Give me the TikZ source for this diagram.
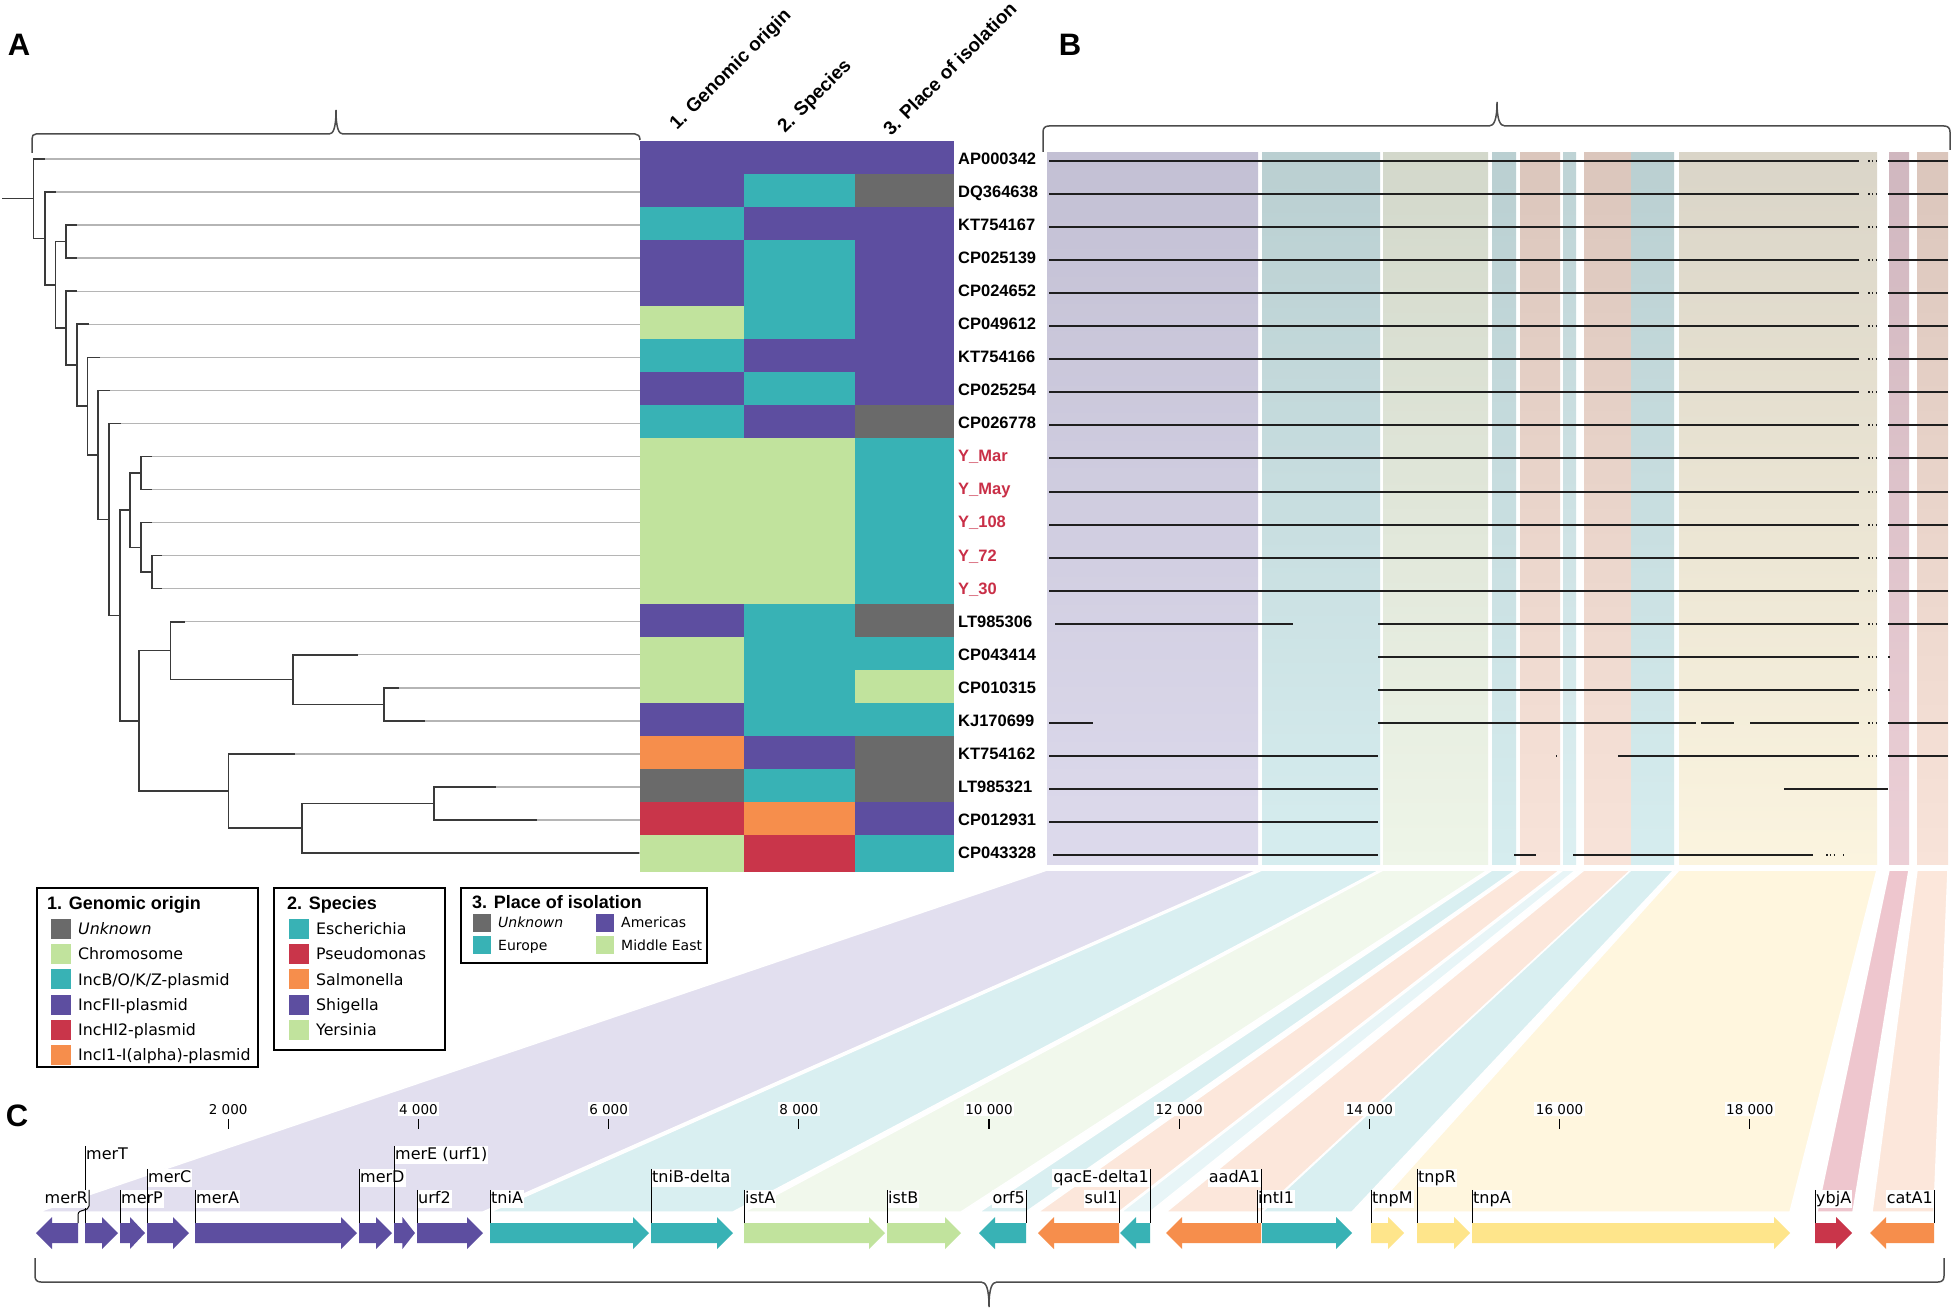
\documentclass[tikz,border=0pt]{standalone}
\usepackage{fontspec}
\setmainfont{Liberation Sans}
\newfontfamily\dvfont{DejaVu Sans}
\usetikzlibrary{calc}
\definecolor{hP}{HTML}{5D4EA0}
\definecolor{hT}{HTML}{38B2B5}
\definecolor{hG}{HTML}{C1E39D}
\definecolor{hK}{HTML}{6A6A6A}
\definecolor{hR}{HTML}{C9354A}
\definecolor{hO}{HTML}{F68E4C}
\definecolor{hY}{HTML}{FEE58B}
\definecolor{labred}{HTML}{C92F47}
\definecolor{brc}{HTML}{3A3A3A}
\definecolor{grc}{HTML}{B5B5B5}
% B columns: t = top, u = bottom, f = band
\definecolor{tP}{HTML}{C3C0D4}\definecolor{uP}{HTML}{DDDAEC}\definecolor{fP}{HTML}{E2DFEF}
\definecolor{tT}{HTML}{BACFD1}\definecolor{uT}{HTML}{D6EDEF}\definecolor{fT}{HTML}{D9EFF1}
\definecolor{tG}{HTML}{D3D8CB}\definecolor{uG}{HTML}{EEF5E8}\definecolor{fG}{HTML}{F1F8EC}
\definecolor{tO}{HTML}{DBC6BC}\definecolor{uO}{HTML}{F8E3D9}\definecolor{fO}{HTML}{FCE7DB}
\definecolor{tL}{HTML}{BED3D5}\definecolor{uL}{HTML}{DDF0F2}\definecolor{fL}{HTML}{E8F5F7}
\definecolor{tY}{HTML}{DAD5C8}\definecolor{uY}{HTML}{FBF4DF}\definecolor{fY}{HTML}{FFF6DE}
\definecolor{tK}{HTML}{D0B7BF}\definecolor{uK}{HTML}{ECCFD6}\definecolor{fK}{HTML}{EEC6CE}
\newcommand{\RY}[1]{159+33.05*#1}
\newcommand{\BL}[3]{\draw[bl] (#2,{161+33.05*#1}) -- (#3,{161+33.05*#1});}
\newcommand{\BD}[1]{\draw[bl,dash pattern=on 1.6pt off 2.2pt] (1868,{161+33.05*#1}) -- (1879,{161+33.05*#1});}
\newcommand{\geneR}[3]{\pgfmathsetmacro\hl{min(16,0.6*(#2-#1))}%
  \fill[#3] (#1,1223) -- ({#2-\hl},1223) -- ({#2-\hl},1217) -- (#2,1233) -- ({#2-\hl},1249) -- ({#2-\hl},1243) -- (#1,1243) -- cycle;}
\newcommand{\geneL}[3]{\pgfmathsetmacro\hl{min(16,0.6*(#2-#1))}%
  \fill[#3] (#2,1223) -- ({#1+\hl},1223) -- ({#1+\hl},1217) -- (#1,1233) -- ({#1+\hl},1249) -- ({#1+\hl},1243) -- (#2,1243) -- cycle;}
\newcommand{\LegI}[4]{\fill[#3] (#1,{#2-10}) rectangle ({#1+20},{#2+10});
  \node[legitem,anchor=base west] at ({#1+27},{#2+5.7}) {#4};}
\newcommand{\LegS}[4]{\fill[#3] (#1,{#2-9}) rectangle ({#1+18},{#2+9});
  \node[legitemS,anchor=base west] at ({#1+25},{#2+5.1}) {#4};}
\begin{document}
\begin{tikzpicture}[x=1pt,y=-1pt,
  br/.style={draw=brc, line width=1.6pt},
  gr/.style={draw=grc, line width=1.4pt},
  hlab/.style={font=\bfseries\fontsize{16.5}{18}\selectfont, inner sep=0pt},
  colhead/.style={font=\bfseries\fontsize{19}{21}\selectfont, inner sep=0pt},
  panel/.style={font=\bfseries\fontsize{31}{33}\selectfont, inner sep=0pt},
  bl/.style={draw=black!88, line width=2pt},
  bracepath/.style={draw=black!70, line width=1.5pt},
  legbox/.style={draw=black, line width=1.3pt, fill=white},
  legtitle/.style={font=\bfseries\fontsize{18}{20}\selectfont, inner sep=0pt},
  legitem/.style={font=\dvfont\fontsize{15.8}{17}\selectfont, inner sep=0pt},
  legitemS/.style={font=\dvfont\fontsize{14}{16}\selectfont, inner sep=0pt},
  glab/.style={font=\dvfont\fontsize{16}{18}\selectfont, fill=white, inner sep=1pt, text height=12pt, text depth=3.5pt},
  lead/.style={draw=black, line width=1pt},
  snum/.style={font=\dvfont\fontsize{13.5}{15}\selectfont, fill=white, inner sep=1.5pt},
  scaletick/.style={draw=black, line width=1.2pt},
]
\useasboundingbox (0,0) rectangle (1955,1311);
\fill[white] (0,0) rectangle (1955,1311);

% ---- B columns and bands
\foreach \xa/\xb/\ga/\gb/\cc in {1047/1258/38/483/P, 1262/1380/490/733/T, 1383/1488/744/961/G, 1492/1516/979/1026/T, 1520/1560/1038/1119/O, 1563/1576/1121/1150/L, 1584/1631/1166/1261/O, 1631/1674/1262/1352/T, 1679/1877/1371/1790/Y, 1889/1909/1817/1853/K, 1917/1948/1872/1934/O}{
  \shade[top color=t\cc, bottom color=u\cc] (\xa,153) rectangle (\xb,864);
  \filldraw[fill=f\cc, draw=white, line width=1.5pt] (\xa,870) -- (\xb,870) -- (\gb,1212) -- (\ga,1212) -- cycle;
}

% ---- panel letters
\node[panel] (pA) at (19,45) {A};
\node[panel] (pB) at (1070,45) {B};
\node[panel] (pC) at (17,1116) {C};

% ---- brackets
\draw[bracepath] (32,153) -- (32,139) .. controls (32,136) and (33,134) .. (36,134) -- (329,134) .. controls (333,134) and (336,129) .. (336,110) .. controls (336,129) and (339,134) .. (343,134) -- (635,134) .. controls (638,134) and (640,136) .. (640,140);
\draw[bracepath] (1043,152) -- (1043,132) .. controls (1043,128) and (1045,126) .. (1049,126) -- (1489,126) .. controls (1494,126) and (1497,120) .. (1497,102) .. controls (1497,120) and (1500,126) .. (1505,126) -- (1944,126) .. controls (1948,126) and (1950,128) .. (1950,132) -- (1950,150);
\draw[bracepath] (35,1258) -- (35,1276) .. controls (35,1280) and (37,1282) .. (41,1282) -- (981,1282) .. controls (986,1282) and (989,1288) .. (989,1307) .. controls (989,1288) and (992,1282) .. (997,1282) -- (1938,1282) .. controls (1942,1282) and (1944,1280) .. (1944,1276) -- (1944,1258);

% ---- tree
\foreach \i/\tx in {0/44.6,1/56,2/77,3/77,4/77,5/89,6/100,7/110,8/121,9/152,10/152,11/152,12/162,13/162,14/185,15/358,16/399,17/425,18/295,19/495.5,20/537,21/639}{
  \coordinate (t\i) at (\tx,{\RY{\i}});
  \draw[gr] (t\i) -- (640,{\RY{\i}});
}
\coordinate (root) at (33.5,{\RY{1.2}});
\coordinate (nA) at (45,{\RY{2.405}});
\coordinate (nB) at (55.4,{\RY{3.81}});
\coordinate (nC) at (66,{\RY{2.5}});
\coordinate (nD) at (66,{\RY{5.119}});
\coordinate (nE) at (77,{\RY{6.238}});
\coordinate (nF) at (87.5,{\RY{7.477}});
\coordinate (nG) at (98,{\RY{8.953}});
\coordinate (nH) at (109,{\RY{10.906}});
\coordinate (nI) at (120,{\RY{13.8125}});
\coordinate (nJ) at (130,{\RY{10.625}});
\coordinate (nK) at (141,{\RY{9.5}});
\coordinate (nL) at (141,{\RY{11.75}});
\coordinate (nM) at (152,{\RY{12.5}});
\coordinate (nP) at (139,{\RY{17}});
\coordinate (nQ) at (170.5,{\RY{14.875}});
\coordinate (nR) at (293,{\RY{15.75}});
\coordinate (nS) at (384,{\RY{16.5}});
\coordinate (nT) at (228.5,{\RY{19.125}});
\coordinate (nU) at (302,{\RY{20.25}});
\coordinate (nV) at (434,{\RY{19.5}});
\coordinate (rootstub) at (2,{\RY{1.2}});
\draw[br] (rootstub) -- (root);
\draw[br] (t0) -| (root) |- (nA);
\draw[br] (t1) -| (nA) |- (nB);
\draw[br] (nC) -| (nB) |- (nD);
\draw[br] (t2) -| (nC) |- (t3);
\draw[br] (t4) -| (nD) |- (nE);
\draw[br] (t5) -| (nE) |- (nF);
\draw[br] (t6) -| (nF) |- (nG);
\draw[br] (t7) -| (nG) |- (nH);
\draw[br] (t8) -| (nH) |- (nI);
\draw[br] (nJ) -| (nI) |- (nP);
\draw[br] (nK) -| (nJ) |- (nL);
\draw[br] (t9) -| (nK) |- (t10);
\draw[br] (t11) -| (nL) |- (nM);
\draw[br] (t12) -| (nM) |- (t13);
\draw[br] (nQ) -| (nP) |- (nT);
\draw[br] (t14) -| (nQ) |- (nR);
\draw[br] (t15) -| (nR) |- (nS);
\draw[br] (t16) -| (nS) |- (t17);
\draw[br] (t18) -| (nT) |- (nU);
\draw[br] (nV) -| (nU) |- (t21);
\draw[br] (t19) -| (nV) |- (t20);

% ---- heatmap
\foreach \i/\a/\b/\cc in {0/hP/hP/hP,1/hP/hT/hK,2/hT/hP/hP,3/hP/hT/hP,4/hP/hT/hP,5/hG/hT/hP,6/hT/hP/hP,7/hP/hT/hP,8/hT/hP/hK,9/hG/hG/hT,10/hG/hG/hT,11/hG/hG/hT,12/hG/hG/hT,13/hG/hG/hT,14/hP/hT/hK,15/hG/hT/hT,16/hG/hT/hG,17/hP/hT/hT,18/hO/hP/hK,19/hK/hT/hK,20/hR/hO/hP,21/hG/hR/hT}{
  \fill[\a] (640,{141+33.05*\i}) rectangle (744.5,{141.5+33.05*(\i+1)});
  \fill[\b] (744,{141+33.05*\i}) rectangle (855.5,{141.5+33.05*(\i+1)});
  \fill[\cc] (855,{141+33.05*\i}) rectangle (954,{141.5+33.05*(\i+1)});
}
\fill[hG] (640,860) rectangle (744.5,872);
\fill[hR] (744,860) rectangle (855.5,872);
\fill[hT] (855,860) rectangle (954,872);

\node[colhead, rotate=45, anchor=base west] (h1) at (677,131) {1. Genomic origin};
\node[colhead, rotate=45, anchor=base west] (h2) at (785,134) {2. Species};
\node[colhead, rotate=45, anchor=base west] (h3) at (891,137) {3. Place of isolation};

\foreach \i/\nm/\col in {0/AP000342/black,1/DQ364638/black,2/KT754167/black,3/CP025139/black,4/CP024652/black,5/CP049612/black,6/KT754166/black,7/CP025254/black,8/CP026778/black,9/Y\_Mar/labred,10/Y\_May/labred,11/Y\_108/labred,12/Y\_72/labred,13/Y\_30/labred,14/LT985306/black,15/CP043414/black,16/CP010315/black,17/KJ170699/black,18/KT754162/black,19/LT985321/black,20/CP012931/black,21/CP043328/black}{
  \node[hlab, text=\col, anchor=base west] (lab\i) at (958,{164.4+33.05*\i}) {\nm};
}

% ---- B lines
\foreach \i in {0,...,13}{\BL{\i}{1049}{1859}\BD{\i}\BL{\i}{1888}{1948}}
\BL{14}{1055}{1293}\BL{14}{1378}{1859}\BD{14}\BL{14}{1888}{1948}
\BL{15}{1378}{1859}\BD{15}\BL{15}{1888}{1890}
\BL{16}{1378}{1859}\BD{16}\BL{16}{1888}{1890}
\BL{17}{1049}{1093}\BL{17}{1378}{1696}\BL{17}{1701}{1734}\BL{17}{1750}{1859}\BD{17}\BL{17}{1888}{1948}
\BL{18}{1049}{1378}\BL{18}{1556}{1557}\BL{18}{1618}{1859}\BD{18}\BL{18}{1888}{1948}
\BL{19}{1049}{1378}\BL{19}{1784}{1888}
\BL{20}{1049}{1378}
\BL{21}{1053}{1378}\BL{21}{1514}{1536}\BL{21}{1573}{1813}
\draw[bl,dash pattern=on 1.6pt off 2.2pt] (1826,{161+33.05*21}) -- (1837,{161+33.05*21});
\BL{21}{1843}{1844}

% ---- legends
\draw[legbox] (37,888) rectangle (258,1067);
\node[legtitle, anchor=base west] (lt1) at (47,909.8) {1. Genomic origin};
\LegI{51}{929}{hK}{\itshape Unknown}
\LegI{51}{954.2}{hG}{Chromosome}
\LegI{51}{979.4}{hT}{IncB/O/K/Z-plasmid}
\LegI{51}{1004.6}{hP}{IncFII-plasmid}
\LegI{51}{1029.8}{hR}{IncHI2-plasmid}
\LegI{51}{1055}{hO}{IncI1-I(alpha)-plasmid}

\draw[legbox] (274,888) rectangle (445,1050);
\node[legtitle, anchor=base west] (lt2) at (287,909.5) {2. Species};
\LegI{289}{929}{hT}{Escherichia}
\LegI{289}{954.2}{hR}{Pseudomonas}
\LegI{289}{979.4}{hO}{Salmonella}
\LegI{289}{1004.6}{hP}{Shigella}
\LegI{289}{1029.8}{hG}{Yersinia}

\draw[legbox] (461,888) rectangle (707,963);
\node[legtitle, anchor=base west] (lt3) at (472,908) {3. Place of isolation};
\LegS{473}{922.5}{hK}{\itshape Unknown}
\LegS{596}{922.5}{hP}{Americas}
\LegS{473}{945}{hT}{Europe}
\LegS{596}{945}{hG}{Middle East}

% ---- scale
\foreach \kk/\txt in {2/2 000,4/4 000,6/6 000,8/8 000,10/10 000,12/12 000,14/14 000,16/16 000,18/18 000}{
  \pgfmathsetmacro\sx{38+95.1*\kk}
  \node[snum, anchor=base] (s\kk) at (\sx,1114) {\txt};
  \draw[scaletick] (\sx,1119) -- (\sx,1129);
}

% ---- genes
\geneL{36}{78}{hP}
\geneR{85}{118}{hP}
\geneR{120}{145}{hP}
\geneR{147}{189}{hP}
\geneR{195}{357}{hP}
\geneR{359}{392}{hP}
\geneR{394}{415}{hP}
\geneR{417}{483}{hP}
\geneR{490}{649}{hT}
\geneR{651}{733}{hT}
\geneR{744}{885}{hG}
\geneR{887}{961}{hG}
\geneL{979}{1026}{hT}
\geneL{1038}{1119}{hO}
\geneL{1120}{1150}{hT}
\geneL{1166}{1261}{hO}
\geneR{1262}{1352}{hT}
\geneR{1371}{1404}{hY}
\geneR{1417}{1470}{hY}
\geneR{1472}{1790}{hY}
\geneR{1815}{1852}{hR}
\geneL{1870}{1934}{hO}

% ---- gene labels
\coordinate (gy) at (0,1223);
\node[glab, anchor=base west] (g-merT) at (85,1159) {merT};
\draw[lead] (g-merT.north west) -- (g-merT.north west |- gy);
\node[glab, anchor=base east] (g-merR) at (89,1203) {merR};
\draw[lead] (g-merR.north east) -- (89,1206) .. controls (89,1212) and (78,1208) .. (78,1215) -- (78,1223);
\foreach \nm/\xx/\yy in {merP/120/1203, merC/147/1182, merA/195/1203, merD/359/1182, merE (urf1)/394/1159, urf2/417/1203, tniA/490/1203, tniB-delta/651/1182, istA/744/1203, istB/887/1203, intI1/1257/1203, tnpM/1371/1203, tnpR/1417/1182, tnpA/1472/1203, ybjA/1815/1203}{
  \node[glab, anchor=base west] (g-\xx) at (\xx,\yy) {\nm};
  \draw[lead] (g-\xx.north west) -- (g-\xx.north west |- gy);
}
\foreach \nm/\xx/\yy in {orf5/1026/1203, qacE-delta1/1150/1182, sul1/1119/1203, aadA1/1261/1182, catA1/1934/1203}{
  \node[glab, anchor=base east] (g-\xx) at (\xx,\yy) {\nm};
  \draw[lead] (g-\xx.north east) -- (g-\xx.north east |- gy);
}
\end{tikzpicture}
\end{document}
